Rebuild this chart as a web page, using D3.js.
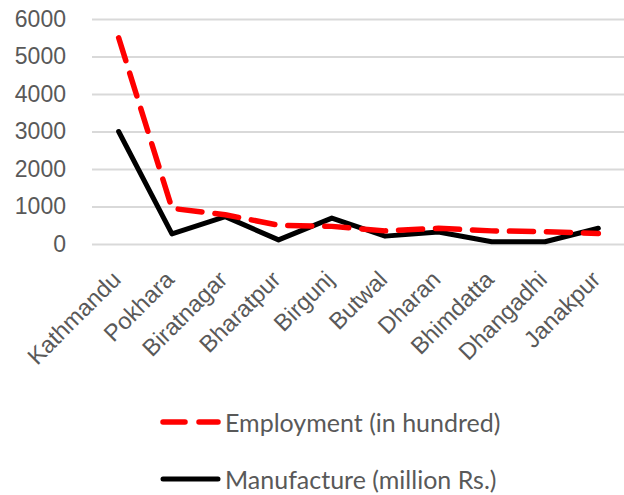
<!DOCTYPE html>
<html>
<head>
<meta charset="utf-8">
<script src="https://cdn.jsdelivr.net/npm/d3@7"></script>
<style>
  html, body { margin: 0; padding: 0; background: #fff; }
  svg { display: block; font-family: Lato, "Open Sans", sans-serif; }
</style>
</head>
<body>
<svg id="chart" width="624" height="495"></svg>
<script>
// Cities along the x axis
const cities = ["Kathmandu", "Pokhara", "Biratnagar", "Bharatpur", "Birgunj",
                "Butwal", "Dharan", "Bhimdatta", "Dhangadhi", "Janakpur"];
// Employment, in hundreds of workers
const employment = [5500, 950, 780, 500, 470, 350, 420, 350, 330, 280];
// Manufacturing output, million rupees
const manufacture = [3000, 270, 730, 110, 690, 210, 320, 60, 60, 420];
// Value axis ticks
const yTicks = [0, 1000, 2000, 3000, 4000, 5000, 6000];

const seriesNames = ["Employment (in hundred)", "Manufacture (million Rs.)"];

const svg = d3.select("#chart");
const margin = { left: 92, right: -1, top: 19, bottom: 251 };
const W = 624, H = 495;

const x = d3.scalePoint()
  .domain(cities)
  .range([margin.left, W - margin.right])
  .padding(0.5);

const y = d3.scaleLinear()
  .domain([0, 6000])
  .range([H - margin.bottom, margin.top]);

// Horizontal gridlines with value labels
const yAxis = d3.axisLeft(y)
  .tickValues(yTicks)
  .tickSize(-(W - margin.right - margin.left))
  .tickPadding(26)
  .tickFormat(d3.format("d"));

const gy = svg.append("g")
  .attr("transform", `translate(${margin.left},0)`)
  .call(yAxis);
gy.select(".domain").remove();
gy.selectAll(".tick line").attr("stroke", "#d9d9d9").attr("stroke-width", 2);
gy.selectAll(".tick text")
  .attr("fill", "#595959")
  .style("font-size", "23px");

// Category labels, rotated
const xAxis = d3.axisBottom(x).tickSize(0).tickPadding(0);
const gx = svg.append("g")
  .attr("transform", `translate(0,${y(0)})`)
  .call(xAxis);
gx.select(".domain").remove();
gx.selectAll(".tick text")
  .attr("fill", "#595959")
  .style("font-size", "23.5px")
  .attr("text-anchor", "end")
  .attr("dy", null)
  .attr("y", 0)
  .attr("transform", "translate(3,37) rotate(-45)");

const line = d3.line()
  .x((d, i) => x(cities[i]))
  .y(d => y(d));

// Manufacture: solid black
svg.append("path")
  .datum(manufacture)
  .attr("d", line)
  .attr("fill", "none")
  .attr("stroke", "#000")
  .attr("stroke-width", 5)
  .attr("stroke-linejoin", "round")
  .attr("stroke-linecap", "round");

// Employment: red dashes
svg.append("path")
  .datum(employment)
  .attr("d", line)
  .attr("fill", "none")
  .attr("stroke", "#ff0000")
  .attr("stroke-width", 5.5)
  .attr("stroke-dasharray", "24,13")
  .attr("stroke-linejoin", "round")
  .attr("stroke-linecap", "round");

// Legend
const legend = svg.append("g");
const legendItems = [
  { name: seriesNames[0], color: "#ff0000", dash: "22,14", width: 5.5, y: 422 },
  { name: seriesNames[1], color: "#000", dash: null, width: 5, y: 479 }
];
legendItems.forEach(item => {
  legend.append("line")
    .attr("x1", 163).attr("x2", 218)
    .attr("y1", item.y).attr("y2", item.y)
    .attr("stroke", item.color)
    .attr("stroke-width", item.width)
    .attr("stroke-linecap", "round")
    .attr("stroke-dasharray", item.dash);
  legend.append("text")
    .attr("x", 225)
    .attr("y", item.y)
    .attr("dominant-baseline", "central")
    .attr("fill", "#595959")
    .style("font-size", "25px")
    .text(item.name);
});
</script>
</body>
</html>
